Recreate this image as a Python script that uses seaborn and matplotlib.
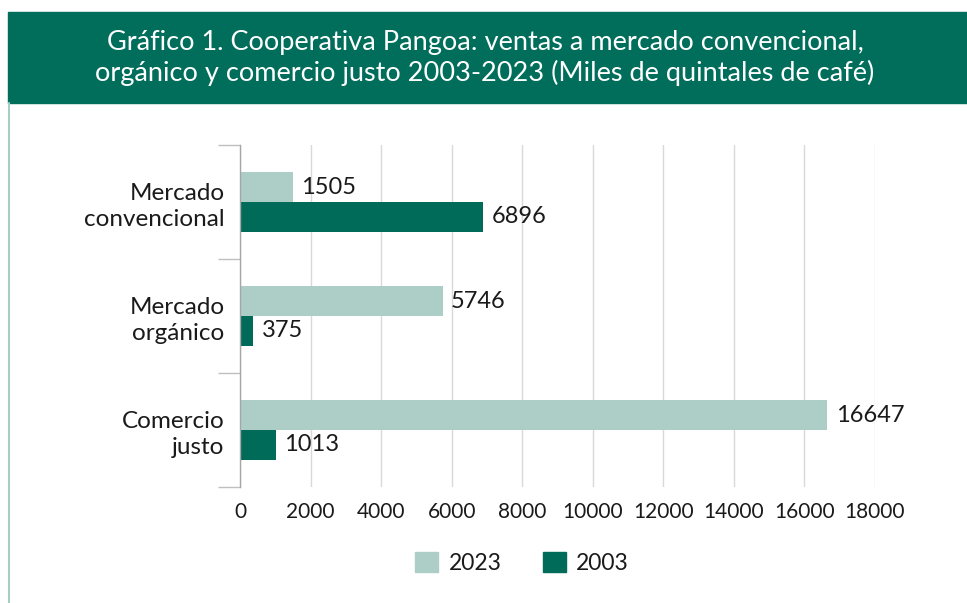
import matplotlib
matplotlib.use('Agg')
import pandas as pd
import seaborn as sns
import matplotlib.pyplot as plt
from matplotlib.patches import Rectangle
from matplotlib.lines import Line2D

categorias = ["Mercado\nconvencional", "Mercado\norgánico", "Comercio\njusto"]
ventas_2023 = [1505, 5746, 16647]
ventas_2003 = [6896, 375, 1013]
anios = ["2023", "2003"]
ticks_x = list(range(0, 18001, 2000))

titulo = ("Gráfico 1. Cooperativa Pangoa: ventas a mercado convencional,\n"
          "orgánico y comercio justo 2003-2023 (Miles de quintales de café)")

verde = "#006b59"
verde_claro = "#adcec7"

df = pd.DataFrame({
    "categoria": categorias * 2,
    "valor": ventas_2023 + ventas_2003,
    "anio": ["2023"] * 3 + ["2003"] * 3,
})

sns.set_theme(style="white")
plt.rcParams['font.family'] = ['Lato', 'DejaVu Sans']

fig = plt.figure(figsize=(9.67, 6.03), dpi=100)
ax = fig.add_axes([240 / 967, 1 - 487 / 603, 635 / 967, 342 / 603])

sns.barplot(data=df, y="categoria", x="valor", hue="anio", hue_order=anios,
            palette=[verde_claro, verde], saturation=1, width=0.52, ax=ax,
            legend=False, edgecolor="none", linewidth=0)

for cont in ax.containers:
    ax.bar_label(cont, padding=6, fontsize=17, color="#1a1a1a")

ax.set_xlim(0, 18000)
ax.set_ylim(2.5, -0.5)
ax.set_xticks(ticks_x)
ax.set_xticklabels([str(t) for t in ticks_x], fontsize=15, color="#1a1a1a")
ax.tick_params(axis="x", length=0, pad=11)
ax.set_yticks(range(len(categorias)))
ax.set_yticklabels(categorias, fontsize=17.5, color="#1a1a1a", linespacing=1.3)
ax.tick_params(axis="y", which="major", length=0, pad=11)
ax.set_yticks([-0.5, 0.5, 1.5, 2.5], minor=True)
ax.tick_params(axis="y", which="minor", length=16, width=1, color="#bfbfbf", left=True)
ax.set_xlabel("")
ax.set_ylabel("")
ax.grid(axis="x", color="#d9d9d9", linewidth=1)
ax.set_axisbelow(True)
for s in ["top", "right", "bottom"]:
    ax.spines[s].set_visible(False)
ax.spines["left"].set_color("#a6a6a6")
ax.spines["left"].set_linewidth(1)

# cabecera verde con título
fig.patches.append(Rectangle((8 / 967, 1 - 103 / 603), 1, 91 / 603,
                             transform=fig.transFigure, color="#006e5b", zorder=0))
fig.text(485 / 967, 1 - 58 / 603, titulo, ha="center", va="center", color="white",
         fontsize=19.5, linespacing=1.25)
fig.lines.append(Line2D([9 / 967, 9 / 967], [0, 1 - 103 / 603],
                        transform=fig.transFigure, color="#a8cdc4", linewidth=1.5))

handles = [Rectangle((0, 0), 1, 1, color=verde_claro), Rectangle((0, 0), 1, 1, color=verde)]
fig.legend(handles, anios, loc="center", bbox_to_anchor=(522 / 967, 1 - 563 / 603),
           ncol=2, frameon=False, fontsize=16.5, handlelength=1.0, handleheight=1.0,
           columnspacing=1.8, handletextpad=0.45, labelcolor="#1a1a1a")

fig.savefig("out.png", dpi=100)
